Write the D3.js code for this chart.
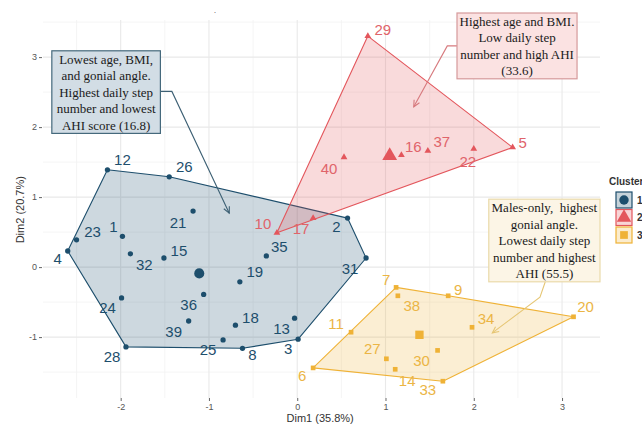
<!DOCTYPE html>
<html><head><meta charset="utf-8">
<script src="https://cdn.jsdelivr.net/npm/d3@7"></script>
<style>
html,body{margin:0;padding:0;background:#fff;}
svg{display:block;}
</style></head>
<body>
<svg id="chart" width="642" height="427"></svg>
<script>
// ---------------- data ----------------
const pointIds = [1,2,3,4,5,6,7,8,9,10,11,12,13,14,15,16,17,18,19,20,21,22,23,24,25,26,27,28,29,30,31,32,33,34,35,36,37,38,39,40];
const dim1 = [-1.98,0.57,0.01,-2.60,2.44,0.18,1.12,-0.62,1.71,-0.23,0.61,-2.15,-0.03,1.11,-1.51,1.18,0.18,-0.70,-0.65,3.13,-1.18,2.00,-2.50,-1.99,-0.84,-1.45,1.01,-1.94,0.80,1.59,0.78,-1.89,1.65,1.98,-0.35,-1.06,1.48,1.14,-1.23,0.53];
const dim2 = [0.44,0.70,-1.03,0.23,1.71,-1.44,-0.29,-1.16,-0.41,0.49,-0.93,1.39,-0.73,-1.46,0.13,1.60,0.70,-0.83,-0.21,-0.71,0.80,1.69,0.39,-0.44,-1.04,1.29,-1.31,-1.14,3.30,-1.19,0.13,0.19,-1.63,-0.86,0.16,-0.39,1.66,-0.41,-0.77,1.57];
const clusterOf = [1,1,1,1,2,3,3,1,3,2,3,1,1,3,1,2,2,1,1,3,1,2,1,1,1,1,3,1,2,3,1,1,3,3,1,1,2,3,1,2];
const clusters = ["1","2","3"];
const xTicks = [-2,-1,0,1,2,3];
const yTicks = [-1,0,1,2,3];
const xTitle = "Dim1 (35.8%)";
const yTitle = "Dim2 (20.7%)";
const legendTitle = "Cluster";
const noteTexts = [
  ["Lowest age, BMI,","and gonial angle.","Highest daily step","number and lowest","AHI score (16.8)"],
  ["Highest age and BMI.","Low daily step","number and high AHI","(33.6)"],
  ["Males-only,  highest","gonial angle.","Lowest daily step","number and highest","AHI (55.5)"]
];

// ---------------- layout / style ----------------
const colors = ["#1D4E6C","#E3565C","#EFB236"];
const labelColors = ["#1D4E6C","#E0646A","#EBB545"];
// label nudges (px) for each point id, like ggrepel output
const nudge = {1:[-9,-10],2:[-11,8],3:[-10,9],4:[-10,7],5:[10,-5],6:[-11,8],7:[-10,-8],8:[10,6],9:[10,-6],10:[-14,-9],
 11:[-15,-9],12:[15,-10],13:[-13,10],14:[12,11],15:[15,-8],16:[12,-9],17:[-12,10],18:[15,-8],19:[15,-10],20:[12,-10],
 21:[-15,11],22:[-6,13],23:[16,-8],24:[-14,10],25:[-15,10],26:[15,-10],27:[-14,-10],28:[-14,10],29:[15,-7],30:[-16,10],
 31:[-16,10],32:[14,11],33:[-15,8],34:[14,-9],35:[13,-9],36:[-15,10],37:[14,-9],38:[14,10],39:[-15,10],40:[-15,11]};

const svg = d3.select("#chart");
const panel = {left:43, right:600, top:20, bottom:398};
const x = d3.scaleLinear().domain([-2.88,3.43]).range([panel.left,panel.right]);
const y = d3.scaleLinear().domain([-1.87,3.53]).range([panel.bottom,panel.top]);

const pts = pointIds.map((id,i)=>({id, x:dim1[i], y:dim2[i], c:clusterOf[i]}));

// grid
const g = svg.append("g");
const minorX = d3.range(-2.5,3.5,1), minorY = d3.range(-1.5,3.6,1);
g.selectAll(".mx").data(minorX).join("line")
  .attr("x1",d=>x(d)).attr("x2",d=>x(d)).attr("y1",panel.top).attr("y2",panel.bottom)
  .attr("stroke","#f3f3f3").attr("stroke-width",0.8);
g.selectAll(".my").data(minorY).join("line")
  .attr("y1",d=>y(d)).attr("y2",d=>y(d)).attr("x1",panel.left).attr("x2",panel.right)
  .attr("stroke","#f3f3f3").attr("stroke-width",0.8);
g.selectAll(".Mx").data(xTicks).join("line")
  .attr("x1",d=>x(d)).attr("x2",d=>x(d)).attr("y1",panel.top).attr("y2",panel.bottom)
  .attr("stroke","#e9e9e9").attr("stroke-width",1.1);
g.selectAll(".My").data(yTicks).join("line")
  .attr("y1",d=>y(d)).attr("y2",d=>y(d)).attr("x1",panel.left).attr("x2",panel.right)
  .attr("stroke","#e9e9e9").attr("stroke-width",1.1);

// axes
const xAxis = d3.axisBottom(x).tickValues(xTicks).tickSize(3).tickPadding(3).tickFormat(d=>d<0?"-"+Math.abs(d):d);
const yAxis = d3.axisLeft(y).tickValues(yTicks).tickSize(3).tickPadding(2).tickFormat(d=>d<0?"-"+Math.abs(d):d);
const xa = svg.append("g").attr("transform",`translate(0,${panel.bottom})`).call(xAxis);
const ya = svg.append("g").attr("transform",`translate(${panel.left-1},0)`).call(yAxis);
[xa,ya].forEach(a=>{
  a.select(".domain").remove();
  a.selectAll(".tick line").attr("stroke","#555").attr("stroke-width",0.9);
  a.selectAll(".tick text").attr("fill","#555").style("font-family","'Liberation Sans',Arial,sans-serif").style("font-size","9px");
});

svg.append("text").attr("x",x(0.26)).attr("y",422).attr("text-anchor","middle")
  .style("font-family","'Liberation Sans',Arial,sans-serif").style("font-size","11px").attr("fill","#333").text(xTitle);
svg.append("text").attr("transform",`translate(24,${y(0.82)}) rotate(-90)`).attr("text-anchor","middle")
  .style("font-family","'Liberation Sans',Arial,sans-serif").style("font-size","11px").attr("fill","#333").text(yTitle);
svg.append("text").attr("x",215).attr("y",13).attr("text-anchor","middle").style("font-size","8px").attr("fill","#333").text(".");

// hulls
const hullG = svg.append("g");
clusters.forEach((c,ci)=>{
  const cp = pts.filter(p=>p.c===ci+1).map(p=>[x(p.x),y(p.y)]);
  const hull = d3.polygonHull(cp);
  hullG.append("path").attr("d","M"+hull.join("L")+"Z")
    .attr("fill",colors[ci]).attr("fill-opacity",0.22)
    .attr("stroke",colors[ci]).attr("stroke-width",1.1).attr("stroke-linejoin","round");
});

// shapes
const sym = [d3.symbolCircle,d3.symbolTriangle,d3.symbolSquare];
const ptSize = [22,20,22];
const cenSize = [80,95,70];
const ptG = svg.append("g");
ptG.selectAll("path").data(pts).join("path")
  .attr("transform",d=>`translate(${x(d.x)},${y(d.y)})`)
  .attr("d",d=>d3.symbol(sym[d.c-1],ptSize[d.c-1])())
  .attr("fill",d=>colors[d.c-1]);
clusters.forEach((c,ci)=>{
  const cp = pts.filter(p=>p.c===ci+1);
  const cx = d3.mean(cp,p=>p.x), cy = d3.mean(cp,p=>p.y);
  ptG.append("path").attr("transform",`translate(${x(cx)},${y(cy)})`)
    .attr("d",d3.symbol(sym[ci],cenSize[ci])()).attr("fill",colors[ci]);
});

// labels
svg.append("g").selectAll("text").data(pts).join("text")
  .attr("x",d=>x(d.x)+nudge[d.id][0]).attr("y",d=>y(d.y)+nudge[d.id][1])
  .attr("text-anchor","middle").attr("dominant-baseline","central")
  .style("font-family","'Liberation Sans',Arial,sans-serif").style("font-size","15px")
  .attr("fill",d=>labelColors[d.c-1]).text(d=>d.id);

// annotations (data coordinates)
const notes = [
  {box:[-2.78,3.09,-1.55,1.91], fill:"#d2dde5", stroke:"#45697c", lineC:"#3d6074",
   path:[[-1.55,2.51],[-1.42,2.51],[-0.77,0.77]], lh:16.5},
  {box:[1.81,3.63,3.17,2.69], fill:"#fbe2e2", stroke:"#d69a9b", lineC:"#d77a7e",
   path:[[1.81,3.16],[1.70,3.16],[1.32,2.29]], lh:16.3},
  {box:[2.17,0.97,3.43,-0.21], fill:"#fcf5e6", stroke:"#eadaaa", lineC:"#e6c674",
   path:[[2.81,-0.21],[2.75,-0.43],[2.21,-0.94]], lh:16.5}
];
const noteG = svg.append("g");
notes.forEach((n,i)=>{
  const pp = n.path.map(p=>[x(p[0]),y(p[1])]);
  noteG.append("path").attr("d","M"+pp.join("L")).attr("fill","none").attr("stroke",n.lineC).attr("stroke-width",1.1);
  const [a,b] = [pp[pp.length-2],pp[pp.length-1]];
  const ang = Math.atan2(b[1]-a[1],b[0]-a[0]);
  const L=7, w=0.45;
  const h1=[b[0]-L*Math.cos(ang-w),b[1]-L*Math.sin(ang-w)], h2=[b[0]-L*Math.cos(ang+w),b[1]-L*Math.sin(ang+w)];
  noteG.append("path").attr("d",`M${h1}L${b}L${h2}`).attr("fill","none").attr("stroke",n.lineC).attr("stroke-width",1.1);
  const x0=x(n.box[0]), y0=y(n.box[1]), x1=x(n.box[2]), y1=y(n.box[3]);
  noteG.append("rect").attr("x",x0).attr("y",y0).attr("width",x1-x0).attr("height",y1-y0)
    .attr("fill",n.fill).attr("stroke",n.stroke).attr("stroke-width",1.2);
  const lines = noteTexts[i];
  const cy = (y0+y1)/2, start = cy-(lines.length-1)/2*n.lh;
  lines.forEach((t,k)=>{
    noteG.append("text").attr("x",(x0+x1)/2).attr("y",start+k*n.lh).attr("dominant-baseline","central")
      .attr("text-anchor","middle").style("font-family","'Liberation Serif','Times New Roman',serif")
      .style("font-size","13px").attr("fill","#1a1a1a").style("white-space","pre").text(t);
  });
});

// legend
const lg = svg.append("g").attr("transform","translate(608,0)");
lg.append("text").attr("x",1).attr("y",185).style("font-family","'Liberation Sans',Arial,sans-serif")
  .style("font-size","10px").style("font-weight","bold").attr("fill","#333").text(legendTitle);
clusters.forEach((c,ci)=>{
  const ky = 192+ci*17.5;
  lg.append("rect").attr("x",8).attr("y",ky).attr("width",16).attr("height",16)
    .attr("fill",colors[ci]).attr("fill-opacity",0.25).attr("stroke",colors[ci]).attr("stroke-width",1.2);
  lg.append("path").attr("transform",`translate(16,${ky+8})`).attr("d",d3.symbol(sym[ci],[70,90,60][ci])()).attr("fill",colors[ci]);
  lg.append("text").attr("x",29).attr("y",ky+8).attr("dominant-baseline","central")
    .style("font-family","'Liberation Sans',Arial,sans-serif").style("font-size","10px").style("font-weight","bold").attr("fill","#333").text(c);
});
</script>
</body></html>
